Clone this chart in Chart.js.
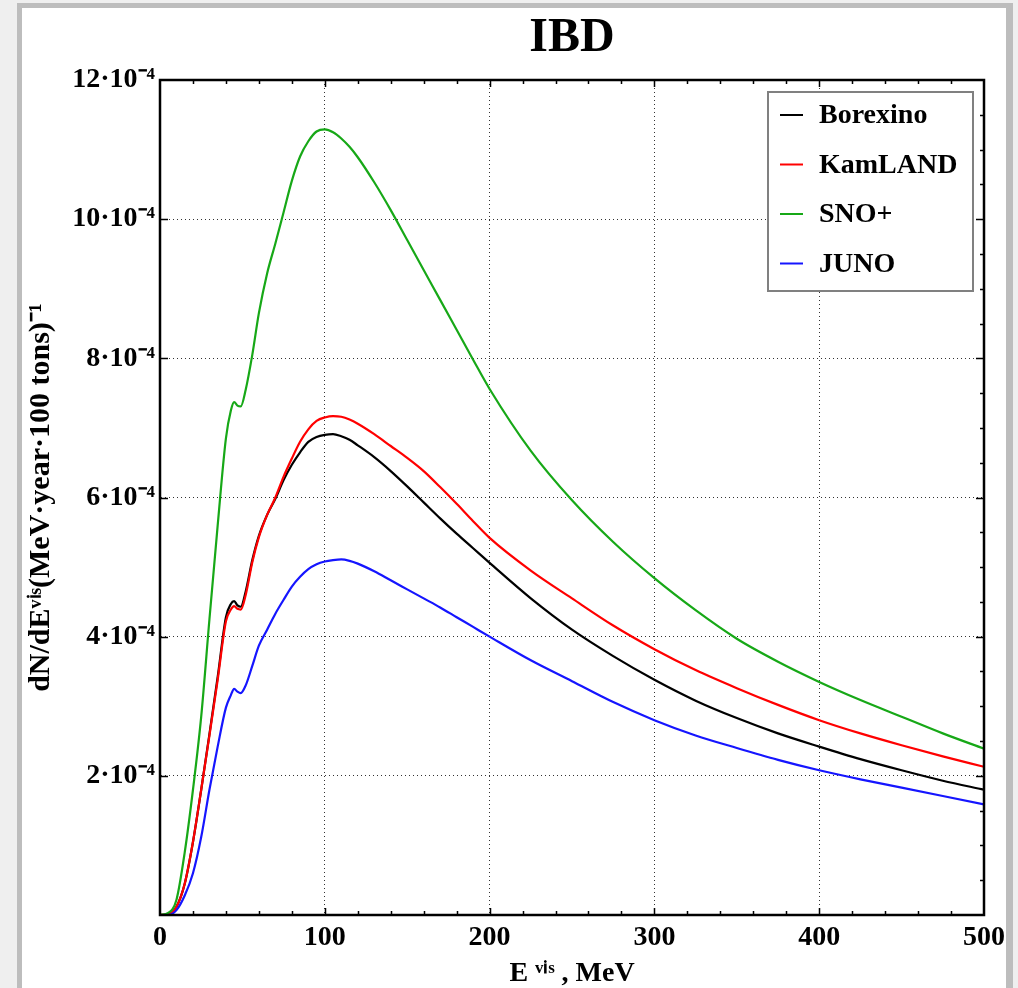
<!DOCTYPE html>
<html>
<head>
<meta charset="utf-8">
<script src="https://cdn.jsdelivr.net/npm/chart.js@4.4.1/dist/chart.umd.min.js"></script>
<style>
  body { margin: 0; background: #efefef; }
  #shade { position: absolute; left: 17px; top: 3px; width: 996px; height: 990px; background: #bdbdbd; }
  #panel { position: absolute; left: 22px; top: 8px; width: 984px; height: 980px; background: #fff; }
</style>
</head>
<body>
<div id="shade"></div>
<div id="panel"><canvas id="ibd" width="984" height="980"></canvas></div>
<script>
'use strict';
/*
 * IBD spectra, values in units of 1e-4 per (MeV year 100 tons).
 */

var energy = [0, 5, 10, 15, 20, 25, 30, 35, 40, 43, 45, 47, 49, 52, 56, 60, 65, 70, 75, 80,
              85, 90, 95, 100, 105, 110, 115, 120, 130, 140, 150, 160, 170, 180, 190, 200,
              225, 250, 275, 300, 325, 350, 375, 400, 425, 450, 475, 500];

var borexino = [0, 0.01, 0.12, 0.45, 1.05, 1.8, 2.6, 3.42, 4.28, 4.47, 4.51, 4.45, 4.43, 4.65, 5.1, 5.45, 5.75, 5.98, 6.25, 6.47,
                6.65, 6.8, 6.87, 6.9, 6.91, 6.88, 6.83, 6.75, 6.58, 6.38, 6.16, 5.93, 5.7, 5.48, 5.27, 5.06,
                4.55, 4.1, 3.72, 3.38, 3.08, 2.83, 2.61, 2.42, 2.24, 2.08, 1.93, 1.80];

var kamland = [0, 0.01, 0.12, 0.45, 1.05, 1.8, 2.58, 3.38, 4.22, 4.39, 4.44, 4.40, 4.39, 4.6, 5.07, 5.43, 5.75, 6.0, 6.3, 6.56,
               6.8, 6.98, 7.1, 7.15, 7.17, 7.16, 7.12, 7.06, 6.91, 6.74, 6.57, 6.38, 6.15, 5.91, 5.66, 5.42,
               4.95, 4.55, 4.16, 3.82, 3.52, 3.26, 3.02, 2.80, 2.61, 2.44, 2.28, 2.13];

var snoPlus = [0, 0.03, 0.22, 0.9, 1.8, 2.85, 4.25, 5.6, 6.85, 7.25, 7.37, 7.32, 7.31, 7.55, 8.05, 8.65, 9.22, 9.65, 10.1, 10.55,
               10.9, 11.12, 11.26, 11.29, 11.25, 11.16, 11.04, 10.89, 10.53, 10.13, 9.7, 9.27, 8.84, 8.41, 7.98, 7.56,
               6.67, 5.96, 5.36, 4.84, 4.38, 3.97, 3.64, 3.35, 3.09, 2.85, 2.61, 2.39];

var juno = [0, 0, 0.07, 0.28, 0.6, 1.12, 1.8, 2.42, 2.98, 3.16, 3.25, 3.21, 3.19, 3.3, 3.58, 3.87, 4.1, 4.33, 4.53, 4.72,
            4.86, 4.97, 5.04, 5.08, 5.1, 5.11, 5.09, 5.05, 4.94, 4.81, 4.68, 4.55, 4.42, 4.28, 4.14, 4.0,
            3.66, 3.36, 3.06, 2.80, 2.58, 2.40, 2.23, 2.08, 1.95, 1.83, 1.71, 1.59];

var seriesNames = ['Borexino', 'KamLAND', 'SNO+', 'JUNO'];
var seriesColors = ['#000000', '#ff0000', '#17a817', '#1515ff'];
var yTicks = [2, 4, 6, 8, 10, 12];

var serif = "'Liberation Serif', 'Times New Roman', serif";

var toPoints = function (vals) {
    return energy.map(function (e, i) { return {x: e, y: vals[i]}; });
};

// box frame with inward ticks, like the original plot
var framePlugin = {
    id: 'frame',
    afterDatasetsDraw: function (chart) {
        var ctx = chart.ctx, a = chart.chartArea;
        var xs = chart.scales.x, ys = chart.scales.y;
        ctx.save();
        ctx.strokeStyle = '#000';
        ctx.lineWidth = 1.5;
        ctx.beginPath();
        for (var e = 20; e < 500; e += 20) {
            var px = Math.round(xs.getPixelForValue(e)) + 0.5;
            var len = (e % 100 === 0) ? 7 : 4;
            ctx.moveTo(px, a.bottom); ctx.lineTo(px, a.bottom - len);
            ctx.moveTo(px, a.top); ctx.lineTo(px, a.top + len);
        }
        for (var v = 0.5; v < 12; v += 0.5) {
            var py = Math.round(ys.getPixelForValue(v)) + 0.5;
            var major = (v % 2 === 0);
            if (major) {
                ctx.moveTo(a.left, py); ctx.lineTo(a.left + 8, py);
            }
            ctx.moveTo(a.right, py); ctx.lineTo(a.right - (major ? 8 : 4), py);
        }
        ctx.stroke();
        ctx.lineWidth = 2.5;
        ctx.strokeRect(a.left, a.top, a.right - a.left, a.bottom - a.top);
        ctx.restore();
    }
};

var legendPlugin = {
    id: 'boxLegend',
    afterDraw: function (chart) {
        var ctx = chart.ctx, a = chart.chartArea;
        var x0 = a.right - 216, y0 = a.top + 12;
        ctx.save();
        ctx.fillStyle = '#fff';
        ctx.fillRect(x0, y0, 205, 199);
        ctx.strokeStyle = '#808080';
        ctx.lineWidth = 2;
        ctx.strokeRect(x0, y0, 205, 199);
        ctx.font = 'bold 28px ' + serif;
        ctx.textBaseline = 'middle';
        chart.data.datasets.forEach(function (ds, i) {
            var y = y0 + 23 + i * 49.5;
            ctx.strokeStyle = ds.borderColor;
            ctx.lineWidth = 2;
            ctx.beginPath();
            ctx.moveTo(x0 + 12, y);
            ctx.lineTo(x0 + 35, y);
            ctx.stroke();
            ctx.fillStyle = '#000';
            ctx.fillText(ds.label, x0 + 51, y + 1);
        });
        ctx.restore();
    }
};

var allSeries = [borexino, kamland, snoPlus, juno];
var datasets = allSeries.map(function (vals, i) {
    return {
        label: seriesNames[i],
        data: toPoints(vals),
        borderColor: seriesColors[i],
        borderWidth: 2.2,
        pointRadius: 0,
        fill: false,
        cubicInterpolationMode: 'monotone',
        order: 4 - i
    };
});

var ctx = document.getElementById('ibd').getContext('2d');
var ibdChart = new Chart(ctx, {
    type: 'line',
    data: {datasets: datasets},
    options: {
        responsive: false,
        animation: false,
        devicePixelRatio: 1,
        layout: {padding: {left: 0, right: 22, top: 0, bottom: 0}},
        plugins: {
            legend: {display: false},
            tooltip: {enabled: false},
            title: {
                display: true,
                text: 'IBD',
                fullSize: false,
                color: '#000',
                font: {family: serif, size: 48, weight: 'bold', lineHeight: 1},
                padding: {top: 7, bottom: 17}
            }
        },
        scales: {
            x: {
                type: 'linear',
                min: 0,
                max: 500,
                ticks: {stepSize: 100, padding: 6, maxRotation: 0, color: '#000',
                        font: {family: serif, size: 28, weight: 'bold'}},
                grid: {color: '#333', lineWidth: 1, drawTicks: false},
                border: {display: true, color: '#000', width: 2, dash: [1, 3]},
                title: {display: true, text: 'E ᵛⁱˢ , MeV', color: '#000',
                        font: {family: serif, size: 28, weight: 'bold', lineHeight: 1},
                        padding: {top: 0, bottom: 0}},
                afterFit: function (s) {
                    s.height = 73;
                    s.paddingRight = 0;
                    s.paddingLeft = 0;
                }
            },
            y: {
                min: 0,
                max: 12,
                afterBuildTicks: function (s) {
                    s.ticks = [{value: 0}].concat(yTicks.map(function (t) { return {value: t}; }));
                },
                ticks: {padding: 5, color: '#000',
                        font: {family: serif, size: 28, weight: 'bold'},
                        callback: function (v) { return v === 0 ? '' : v + '·10⁻⁴'; }},
                grid: {color: '#333', lineWidth: 1, drawTicks: false},
                border: {display: true, color: '#000', width: 2, dash: [1, 3]},
                title: {display: true, text: 'dN/dEᵛⁱˢ(MeV·year·100 tons)⁻¹', color: '#000',
                        font: {family: serif, size: 30, weight: 'bold', lineHeight: 1},
                        padding: {top: 4, bottom: 0}},
                afterFit: function (s) { s.width = 138; }
            }
        }
    },
    plugins: [framePlugin, legendPlugin]
});
</script>
</body>
</html>
